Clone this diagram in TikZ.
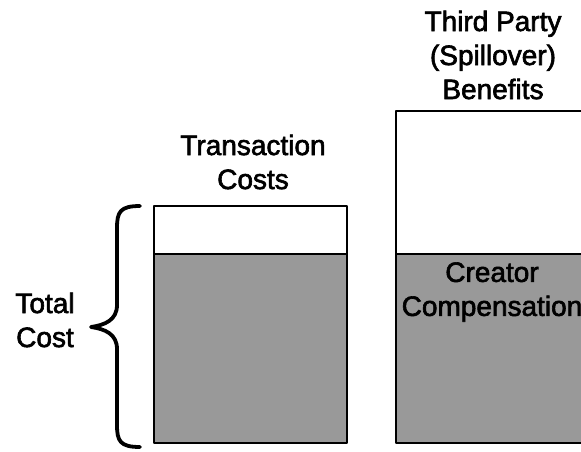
\documentclass[tikz,border=0pt]{standalone}
\usepackage{fontspec}
\setmainfont{Liberation Sans}
\newfontfamily\lblfont{Liberation Sans}[FakeBold=2.2]
\begin{document}
\begin{tikzpicture}[x=1pt,y=-1pt,
  bar/.style={draw=black,line width=2.6pt,line join=round},
  lower/.style={bar,fill={rgb,255:red,153;green,153;blue,153}},
  upper/.style={bar,fill=white},
  label/.style={font=\lblfont\fontsize{28}{34}\selectfont,align=center,inner sep=0pt},
  brace/.style={draw=black,line width=3.8pt,line cap=round,line join=round}]
\clip (0,0) rectangle (581,451);
\fill[white] (0,0) rectangle (581,451);
% left column: transaction costs above, creator compensation below
\path[upper] (154,206) rectangle (347,254);
\path[lower] (154,254) rectangle (347,443);
% right column: spillover benefits above, creator compensation below
\path[upper] (396,111) rectangle (620,254);
\path[lower] (396,254) rectangle (620,443);
% labels
\node[label] (tc) at (253,162) {Transaction\\Costs};
\node[label] (tp) at (493,55) {Third Party\\(Spillover)\\Benefits};
\node[label] (cc) at (492,292) {Creator\\Compensation};
\node[label] (tot) at (45,320) {Total\\Cost};
% brace spanning the total cost column
\coordinate (bt) at (140,206);
\coordinate (bb) at (140,447);
\coordinate (tip) at (91,327);
\path[brace] (bt) .. controls (120,206) and (117,212) .. (117,228)
  -- (117,305) .. controls (117,320) and (105,325) .. (tip)
  .. controls (105,329) and (117,334) .. (117,349)
  -- (117,425) .. controls (117,441) and (120,447) .. (bb);
\end{tikzpicture}
\end{document}
